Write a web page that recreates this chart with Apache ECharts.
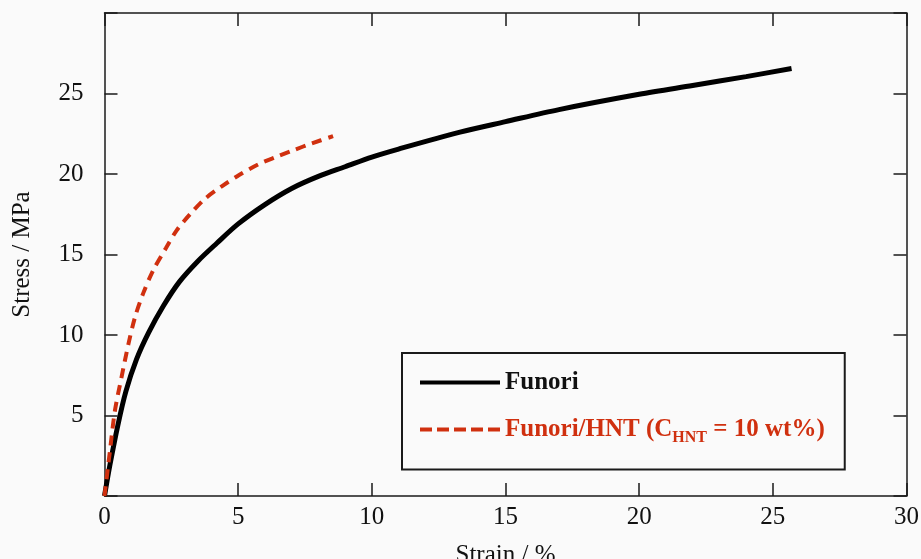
<!DOCTYPE html>
<html>
<head>
<meta charset="utf-8">
<script src="https://cdn.jsdelivr.net/npm/echarts@6/dist/echarts.min.js"></script>
<style>
  html, body { margin: 0; padding: 0; background: #fafafa; }
  #stressChart { width: 921px; height: 559px; }
</style>
</head>
<body>
<div id="stressChart"></div>
<script>
// strain (%) / stress (MPa)
const funoriStrain = [0, 0.2, 0.5, 0.8, 1.2, 1.65, 2.2, 2.8, 3.5, 4.2, 5, 6, 7, 8, 9, 10, 11, 13.3, 15, 17, 20, 22, 24, 25.7]
const funoriStress = [0, 1.9, 4.4, 6.5, 8.5, 10.15, 11.8, 13.3, 14.6, 15.7, 16.9, 18.1, 19.1, 19.85, 20.45, 21.05, 21.55, 22.6, 23.25, 24.0, 24.95, 25.5, 26.05, 26.55]

const hntStrain = [0, 0.2, 0.39, 0.64, 0.89, 1.14, 1.45, 1.83, 2.3, 2.7, 3.2, 3.75, 4.4, 5.05, 5.75, 6.4, 7.07, 7.75, 8.55]
const hntStress = [0, 2.75, 5.3, 7.4, 9.4, 11.1, 12.6, 14.05, 15.4, 16.5, 17.5, 18.45, 19.25, 19.95, 20.6, 21.05, 21.48, 21.9, 22.35]

const seriesNames = ['Funori', 'Funori/HNT']
const tickLabelsX = ['0', '5', '10', '15', '20', '25', '30']
const tickLabelsY = ['', '5', '10', '15', '20', '25', '']

const serif = 'Liberation Serif'
const red = '#d0300f'

function pairs(xs, ys) {
  return xs.map((x, i) => [x, ys[i]])
}

const chart = echarts.init(document.getElementById('stressChart'))

const frameLine = { show: true, onZero: false, lineStyle: { color: '#1a1a1a', width: 1.5 } }
const innerTick = { show: true, inside: true, length: 13, lineStyle: { color: '#1a1a1a', width: 1.5 } }
// hide the marker dot that line series put in the legend icon
const noDot = { opacity: 0, color: 'rgba(0,0,0,0)', borderWidth: 0 }

chart.setOption({
  backgroundColor: '#fafafa',
  animation: false,
  grid: { left: 104.5, right: 14.5, top: 13, bottom: 63, outerBoundsMode: 'none', containLabel: false },
  legend: {
    orient: 'vertical',
    left: 402,
    top: 353,
    padding: [17, 20, 24, 16],
    itemGap: 22,
    itemWidth: 80,
    itemHeight: 14,
    borderColor: '#1a1a1a',
    borderWidth: 2,
    data: [
      { name: seriesNames[0], itemStyle: noDot, lineStyle: { width: 4 } },
      { name: seriesNames[1], itemStyle: noDot, lineStyle: { width: 4, type: [12, 5] } }
    ],
    formatter: function (name) {
      if (name === 'Funori') return '{k|Funori}'
      return '{r|Funori/HNT (C}{s|HNT}{r| = 10 wt%)}'
    },
    textStyle: {
      rich: {
        k: { fontFamily: serif, fontWeight: 'bold', fontSize: 25, color: '#111' },
        r: { fontFamily: serif, fontWeight: 'bold', fontSize: 25, color: red },
        s: { fontFamily: serif, fontWeight: 'bold', fontSize: 16, color: red, padding: [16, 0, 0, 0] }
      }
    }
  },
  xAxis: [{
    type: 'value',
    min: 0,
    max: 30,
    interval: 5,
    name: 'Strain / %',
    nameLocation: 'middle',
    nameGap: 47,
    nameTextStyle: { fontFamily: serif, fontSize: 25, color: '#111' },
    axisLine: frameLine,
    axisTick: innerTick,
    splitLine: { show: false },
    axisLabel: {
      margin: 9,
      fontFamily: serif,
      fontSize: 25,
      color: '#111',
      formatter: (v) => tickLabelsX[v / 5]
    }
  }, {
    type: 'value',
    position: 'top',
    min: 0,
    max: 30,
    interval: 5,
    axisLine: frameLine,
    axisTick: innerTick,
    axisLabel: { show: false },
    splitLine: { show: false }
  }],
  yAxis: [{
    type: 'value',
    min: 0,
    max: 30,
    interval: 5,
    name: 'Stress / MPa',
    nameLocation: 'middle',
    nameGap: 70,
    nameTextStyle: { fontFamily: serif, fontSize: 25, color: '#111' },
    axisLine: frameLine,
    axisTick: innerTick,
    splitLine: { show: false },
    axisLabel: {
      margin: 21,
      fontFamily: serif,
      fontSize: 25,
      color: '#111',
      formatter: (v) => tickLabelsY[v / 5]
    }
  }, {
    type: 'value',
    position: 'right',
    min: 0,
    max: 30,
    interval: 5,
    axisLine: frameLine,
    axisTick: innerTick,
    axisLabel: { show: false },
    splitLine: { show: false }
  }],
  series: [{
    name: seriesNames[0],
    type: 'line',
    smooth: 0.3,
    symbol: 'none',
    color: '#000',
    lineStyle: { color: '#000', width: 5 },
    data: pairs(funoriStrain, funoriStress)
  }, {
    name: seriesNames[1],
    type: 'line',
    smooth: 0.3,
    symbol: 'none',
    color: red,
    lineStyle: { color: red, width: 4, type: [10, 7] },
    data: pairs(hntStrain, hntStress)
  }]
})
</script>
</body>
</html>
